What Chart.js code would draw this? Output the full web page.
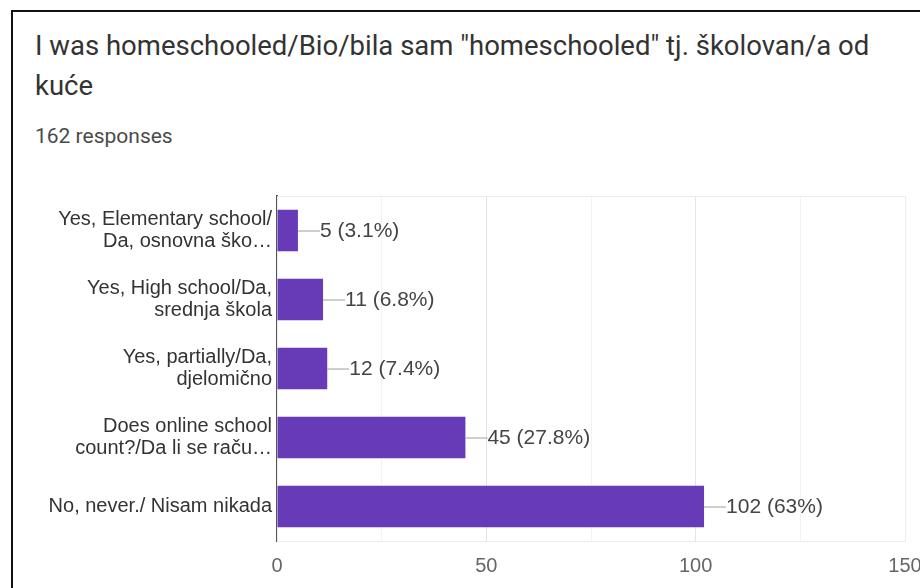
<!DOCTYPE html>
<html lang="bs">

<head>
    <meta charset="UTF-8">
    <title>I was homeschooled</title>
    <script src="https://cdn.jsdelivr.net/npm/chart.js"></script>
    <style>
        html, body {
            margin: 0;
            padding: 0;
            width: 920px;
            height: 588px;
            overflow: hidden;
            background: #fff;
        }

        .frame {
            position: absolute;
            left: 11px;
            top: 10px;
            width: 1000px;
            height: 700px;
            border-left: 2px solid #111;
            border-top: 2px solid #111;
        }

        .title {
            position: absolute;
            left: 35px;
            top: 26px;
            font-family: Roboto, sans-serif;
            font-size: 27.5px;
            line-height: 40px;
            color: #333;
            white-space: nowrap;
        }

        .sub {
            position: absolute;
            left: 35px;
            top: 124px;
            font-family: Roboto, sans-serif;
            font-size: 21px;
            color: #4a4a4a;
        }

        #wrap {
            position: absolute;
            left: 0;
            top: 180px;
            width: 920px;
            height: 408px;
        }
    </style>
</head>

<body>
    <div class="frame"></div>
    <div class="title">I was homeschooled/Bio/bila sam "homeschooled" tj. školovan/a od<br>kuće</div>
    <div class="sub">162 responses</div>
    <div id="wrap"><canvas id="chart"></canvas></div>

    <script>
        const categories = [
            ['Yes, Elementary school/', 'Da, osnovna ško…'],
            ['Yes, High school/Da,', 'srednja škola'],
            ['Yes, partially/Da,', 'djelomično'],
            ['Does online school', 'count?/Da li se raču…'],
            'No, never./ Nisam nikada'
        ];
        const counts = [5, 11, 12, 45, 102];
        const percents = ['3.1', '6.8', '7.4', '27.8', '63'];
        const xTicks = [0, 50, 100, 150];

        // short leader line + "n (p%)" after every bar
        const barLabels = {
            id: 'barLabels',
            afterDatasetsDraw(chart) {
                const ctx = chart.ctx;
                const meta = chart.getDatasetMeta(0);
                ctx.save();
                ctx.font = '21px "Liberation Sans", Arial, sans-serif';
                ctx.textBaseline = 'middle';
                ctx.textAlign = 'left';
                meta.data.forEach((bar, i) => {
                    ctx.strokeStyle = '#9e9e9e';
                    ctx.lineWidth = 1;
                    ctx.beginPath();
                    ctx.moveTo(bar.x, bar.y + 0.5);
                    ctx.lineTo(bar.x + 22, bar.y + 0.5);
                    ctx.stroke();
                    ctx.fillStyle = '#444';
                    ctx.fillText(counts[i] + ' (' + percents[i] + '%)', bar.x + 22, bar.y + 1);
                });
                ctx.restore();
            }
        };

        // light box round the plot area
        const plotBox = {
            id: 'plotBox',
            beforeDatasetsDraw(chart) {
                const a = chart.chartArea;
                const ctx = chart.ctx;
                ctx.save();
                ctx.strokeStyle = '#ececec';
                ctx.lineWidth = 1;
                ctx.strokeRect(a.left + 0.5, a.top + 0.5, a.right - a.left, a.bottom - a.top);
                ctx.restore();
            }
        };

        new Chart(document.getElementById('chart'), {
            type: 'bar',
            data: {
                labels: categories,
                datasets: [{
                    data: counts,
                    backgroundColor: '#673ab7',
                    borderWidth: 0,
                    categoryPercentage: 0.6,
                    barPercentage: 1
                }]
            },
            options: {
                indexAxis: 'y',
                responsive: true,
                maintainAspectRatio: false,
                animation: false,
                layout: { padding: { top: 11, right: 15, left: 0, bottom: 0 } },
                plugins: {
                    legend: { display: false },
                    tooltip: { enabled: false }
                },
                scales: {
                    x: {
                        min: 0,
                        max: 150,
                        afterFit(s) {
                            s.height = 47;
                            s.paddingRight = 0;
                        },
                        ticks: {
                            stepSize: 25,
                            autoSkip: false,
                            maxRotation: 0,
                            padding: 13,
                            color: '#666',
                            font: { family: '"Liberation Sans", Arial, sans-serif', size: 20 },
                            callback: v => xTicks.includes(v) ? v : ''
                        },
                        grid: {
                            drawTicks: false,
                            color: c => (c.tick && c.tick.value % 50 === 0) ? '#e3e3e3' : '#f2f2f2'
                        },
                        border: { display: false }
                    },
                    y: {
                        afterFit(s) { s.width = 277; },
                        ticks: {
                            padding: 5,
                            color: '#333',
                            font: { family: '"Liberation Sans", Arial, sans-serif', size: 20, lineHeight: 1.1 }
                        },
                        grid: { display: false, drawTicks: false },
                        border: { display: true, color: '#555', width: 2 }
                    }
                }
            },
            plugins: [plotBox, barLabels]
        });
    </script>
</body>

</html>
